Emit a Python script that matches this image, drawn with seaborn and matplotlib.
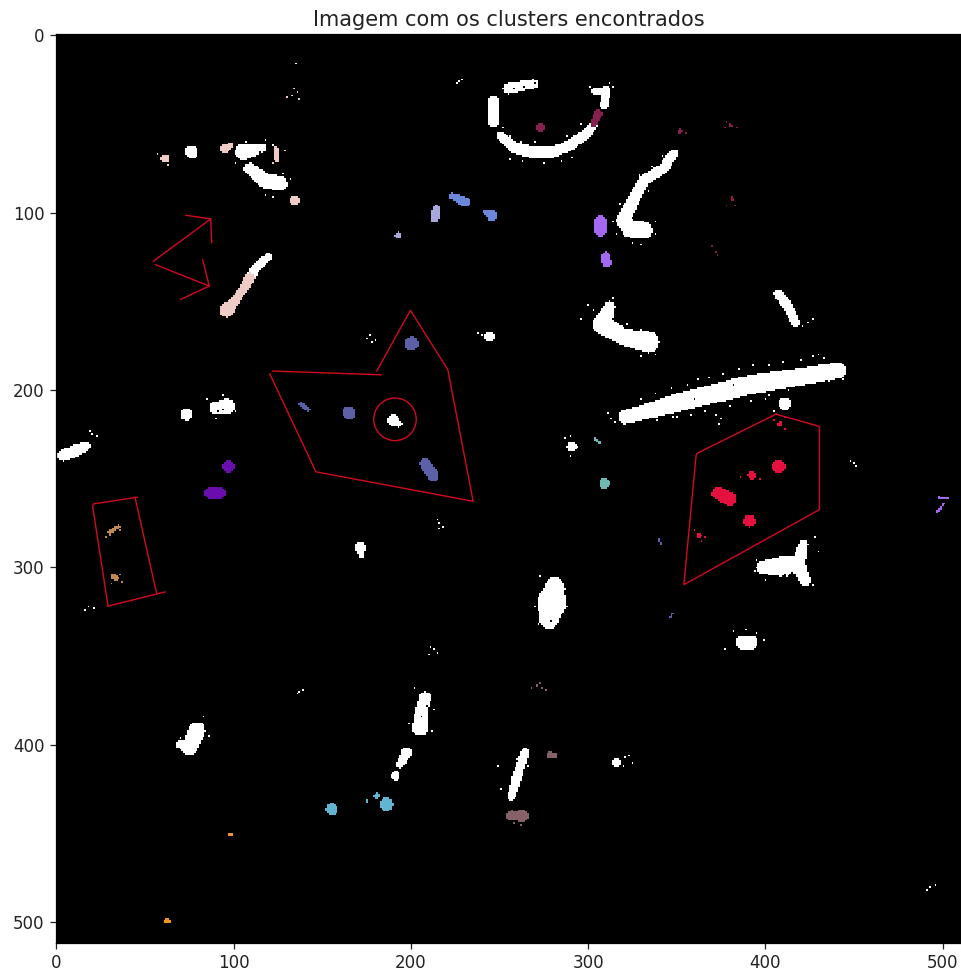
import numpy as np
import matplotlib
matplotlib.use("Agg")
import matplotlib.pyplot as plt
import seaborn as sns
from matplotlib.colors import ListedColormap
from matplotlib.patches import Circle

IMG_SIZE = 512

cluster_colors = ['#000000', '#ffffff', '#efcbc6', '#6b87dc', '#a9a8dc', '#85204f', '#a468f0',
                  '#5b60a8', '#6a0dad', '#c08a50', '#e6103f', '#6db8b0', '#62b4d0', '#f0981e', '#866168']

# blobs, (x, y, radius) along each stroke
white_blobs = [
    [(250.3, 56.4, 2.2), (257.8, 63, 3.2), (267.2, 65.8, 3.4), (280.4, 65.8, 3.2), (289.8, 62, 3), (299.2, 55.4, 2.8), (303.9, 49.8, 2)],
    [(255, 30, 3), (269, 27.5, 2.6)],
    [(246.5, 36.6, 2.6), (246.5, 48.8, 2.8)],
    [(303, 31.5, 1.8), (310.5, 31, 2.2), (309, 39.4, 2.4)],
    [(348.1, 66.7, 2.6), (342.5, 75.2, 3), (331.2, 81.8, 3), (325.5, 93, 3.4), (319.9, 104.3, 4), (323.7, 109, 5), (331.2, 110, 5)],
    [(105.4, 65.8, 4.6), (110, 65, 3.8), (117, 63.3, 2)],
    [(109.2, 75.2, 3.4), (116.7, 81.7, 4.2), (126.1, 83.6, 4.2)],
    [(76.2, 65.8, 3.8)],
    [(119.5, 125, 2.2), (113, 130.7, 2.6), (109.2, 136.3, 2.6)],
    [(320.8, 215.3, 3.8), (351.9, 206.8, 5.2), (389.5, 197.4, 5.4), (441.2, 189, 4.6)],
    [(312, 153, 3), (308, 163, 5.6), (320, 170, 4.6), (334, 173, 6)],
    [(407.4, 145.7, 2.6), (413, 153.2, 2.8), (416.8, 161.7, 2.6)],
    [(411.1, 207.8, 3.6)],
    [(290.7, 231.9, 2.8)],
    [(281, 311, 5.6), (279.5, 320, 8.4), (278, 329, 5.6)],
    [(398.5, 300, 3.6), (408.3, 299.5, 5.6), (417.7, 298, 5)],
    [(421.5, 286.8, 2.6), (418.6, 298, 4), (422.4, 307.5, 3)],
    [(387, 342.2, 4), (392, 342.2, 4)],
    [(89.4, 210, 3.4), (96, 209.2, 4.4)],
    [(73.4, 213.7, 3.4)],
    [(3.8, 236.9, 3.2), (11.3, 234, 3.4), (17, 231.6, 2.4)],
    [(190, 217.1, 3.4), (193, 219, 2)],
    [(244.6, 170, 3)],
    [(171.2, 288.6, 3.2), (172.2, 293.3, 1.6)],
    [(79.1, 392, 5), (75.3, 401.5, 4.2), (69.7, 399.6, 2)],
    [(208, 373.3, 3.4), (206, 380.8, 3.4), (205.1, 390.2, 4.8)],
    [(197.6, 404.3, 3), (193.8, 410.9, 2.2)],
    [(191.4, 417.5, 2.6)],
    [(264.4, 404.3, 2.4), (259.7, 418.4, 2.8), (256.9, 428.8, 2.4)],
    [(316.1, 410, 2.4)],
]
pink_blobs = [
    [(109, 137, 3), (102.6, 147.6, 2.2), (96, 155.1, 4)],
    [(61.2, 69.5, 2.4)],
    [(95.1, 63.9, 2.8), (98.3, 62, 1.4)],
    [(123.6, 63.9, 1.6), (124.2, 69.5, 1.8)],
    [(134.6, 93, 2.8)],
]
blue_blobs = [
    [(223, 90.6, 1.8), (230.5, 94, 2.8)],
    [(241.8, 99.6, 1.2), (245.5, 101.5, 3.2)],
]
lavender_blobs = [
    [(214.5, 98.3, 2.4), (213.6, 103.4, 2.4)],
    [(192.9, 112.8, 2)],
]
wine_blobs = [
    [(305.8, 44.1, 2.4), (303, 49.8, 2)],
    [(272.9, 52, 2.4)],
    [(351.9, 54.1, 1.3)],
    [(381.4, 92.1, 1.2)],
    [(380.1, 50.7, 1.1)],
]
violet_blobs = [
    [(307, 105, 3.4), (307, 110, 3.4)],
    [(310, 124, 2.2), (310.7, 128, 2.8)],
    [(497.6, 260.5, 0.6), (503.3, 261.4, 0.6)],
    [(500.5, 264.2, 0.6), (496.7, 268.9, 0.6)],
]
slate_blobs = [
    [(200.4, 173.9, 4)],
    [(138, 208, 1.2), (142, 211, 1.3)],
    [(165.2, 212.8, 3.8)],
    [(207.9, 241.6, 3), (212.6, 248.2, 3.4)],
    [(340, 284, 0.6), (341, 287, 0.6)],
    [(347.5, 326, 0.6), (346.5, 328, 0.6)],
]
purple_blobs = [
    [(96.9, 242.9, 3.4)],
    [(87, 258, 3.6), (92, 258, 3.6)],
]
tan_blobs = [
    [(30, 280, 1.1), (35, 277, 1)],
    [(32, 305, 1.8), (34, 306, 1.4)],
]
crimson_blobs = [
    [(373.5, 258.2, 3.6), (380.1, 261.4, 3.8)],
    [(391, 273.6, 3.4)],
    [(407.4, 243, 3.8)],
    [(392.3, 247.9, 2.4)],
    [(408.3, 219.1, 1.6)],
    [(362.8, 282.1, 1.4)],
]
teal_blobs = [
    [(309.2, 252.6, 3)],
    [(304, 227.5, 0.7), (306.5, 229.5, 0.8)],
]
sky_blobs = [
    [(155.3, 436.3, 3.4)],
    [(186.3, 433.5, 3.8)],
    [(180.7, 428.7, 1.8)],
    [(175, 431.2, 1)],
]
orange_blobs = [
    [(97.9, 450.4, 1.4)],
    [(62.5, 499.3, 1.7)],
]
mauve_blobs = [
    [(256, 440, 2.6), (263, 440, 3.2)],
    [(278, 405.6, 1.8), (281, 406, 1.8)],
    [(271, 366.7, 1)],
]

# single pixels around the blobs
white_specks = [(227, 26), (229, 25), (226, 27), (301, 29), (312, 27), (314, 29), (135, 16), (319, 215), (311, 213),
                (313, 216), (315, 218), (424, 162), (427, 160), (421, 164), (19, 223), (23, 226), (20, 225), (177, 169),
                (175, 171), (180, 172), (178, 173), (215, 273), (216, 275), (218, 277), (216, 278), (18, 322), (21, 323),
                (16, 324), (211, 345), (213, 346), (210, 349), (215, 348), (139, 369), (136, 371), (137, 370), (321, 407),
                (323, 406), (320, 412), (325, 410), (493, 480), (491, 482), (496, 479), (448, 240), (450, 241), (451, 243),
                (238, 168), (240, 169), (382, 336), (389, 335), (395, 337), (399, 341), (377, 346), (287, 227), (290, 226),
                (294, 232), (290, 237), (350, 215), (372, 214), (375, 216), (374, 219), (405, 212), (413, 200), (402, 203),
                # rough edge of the long diagonal
                (330, 205), (338, 202), (347, 199), (356, 197), (362, 194), (368, 193), (376, 191), (385, 188), (393, 186),
                (402, 186), (410, 184), (420, 183), (427, 181), (430, 180), (433, 182), (339, 217), (348, 215), (358, 214),
                (366, 212), (380, 209), (392, 206), (400, 205), (422, 196), (436, 195), (444, 194),
                # rough edge of the arc and the curves
                (252, 52), (256, 57), (262, 60), (270, 60), (288, 57), (296, 50), (256, 70), (263, 71), (275, 72), (285, 71),
                (291, 69), (342, 68), (336, 74), (329, 79), (334, 88), (328, 92), (326, 100), (318, 95), (314, 105), (316, 112),
                (325, 117), (330, 118), (338, 112), (338, 105),
                # other large blobs
                (300, 152), (303, 155), (314, 148), (296, 160), (322, 163), (330, 166), (338, 180), (330, 181), (273, 305),
                (287, 312), (270, 322), (272, 332), (288, 322), (395, 296), (400, 307), (428, 283), (430, 291), (427, 310),
                (412, 305), (394, 302), (107, 60), (118, 59), (122, 62), (101, 72), (128, 78), (132, 81), (122, 91), (118, 90),
                (85, 205), (94, 203), (101, 212), (90, 216), (68, 401), (83, 384), (86, 395), (70, 396), (202, 368), (213, 380),
                (199, 388), (212, 392), (249, 412), (266, 412), (251, 425), (260, 408)]
# holes cut back into the blobs
black_specks = [(270, 27), (264, 29), (258, 30), (115, 66), (113, 68), (382, 197), (360, 205), (277, 305), (284, 331),
                (279, 330), (415, 303), (411, 304), (206, 384), (209, 378), (12, 238), (5, 240), (94, 211), (91, 212)]
pink_specks = [(134, 30), (136, 32), (133, 34), (137, 36), (130, 35), (57, 67), (63, 73), (129, 65), (122, 72)]
wine_specks = [(355, 55), (377, 52), (384, 52), (378, 49), (378, 96), (383, 96), (370, 119), (372, 122), (373, 124)]
mauve_specks = [(268, 368), (274, 368), (276, 369), (273, 365), (258, 444), (262, 445), (257, 437)]
tan_specks = [(28, 283), (30, 282), (36, 279), (33, 278), (37, 308), (31, 309), (36, 304)]
crimson_specks = [(405, 217), (411, 222), (411, 215), (397, 250), (386, 249), (360, 279), (364, 285), (366, 283)]

# red lines of the picture
arrow_top = ([73.1, 87, 87.6], [101.5, 103.6, 116.9])
arrow_left = ([87, 54.6], [103.6, 127.4])
arrow_low = ([55.8, 86.2, 82.5], [129.3, 141.4, 126.5])
arrow_tail = ([86.2, 70.1], [141.4, 148.9])
poly_top = ([122, 183.1], [189.3, 191.4])
poly_body = ([180.7, 199.7, 220.8, 235.1, 146.4, 120.3], [189.3, 155.1, 188.5, 262.7, 246.1, 190.8])
rect_left = ([29.1, 20.4, 20.8, 45.6], [321.8, 265.6, 264.2, 260.4])
rect_right = ([44.3, 56.5], [260.4, 314.6])
rect_bottom = ([61.2, 29.1], [313.8, 321.8])
poly_right = ([406, 430.5, 430.5, 354, 360.9, 361.6, 406], [213.6, 220.5, 267.4, 309.7, 236.9, 235.6, 213.6])
circle_center = (191, 216.5)
circle_radius = 12

layers = [
    (white_blobs, white_specks, 1), (pink_blobs, pink_specks, 2), (blue_blobs, [], 3), (lavender_blobs, [], 4),
    (wine_blobs, wine_specks, 5), (violet_blobs, [], 6), (slate_blobs, [], 7), (purple_blobs, [], 8),
    (tan_blobs, tan_specks, 9), (crimson_blobs, crimson_specks, 10), (teal_blobs, [], 11), (sky_blobs, [], 12),
    (orange_blobs, [], 13), (mauve_blobs, mauve_specks, 14),
]


def paint_stroke(grid, stroke, value):
    yy, xx = np.mgrid[0:IMG_SIZE, 0:IMG_SIZE]
    if len(stroke) == 1:
        stroke = stroke * 2
    for (x0, y0, r0), (x1, y1, r1) in zip(stroke[:-1], stroke[1:]):
        dx, dy = x1 - x0, y1 - y0
        t = ((xx - x0) * dx + (yy - y0) * dy) / max(dx * dx + dy * dy, 1e-9)
        t = np.clip(t, 0, 1)
        dist = np.hypot(xx - x0 - t * dx, yy - y0 - t * dy)
        grid[dist <= r0 + t * (r1 - r0)] = value


grid = np.zeros((IMG_SIZE, IMG_SIZE), dtype=int)
for blobs, specks, value in layers:
    for stroke in blobs:
        paint_stroke(grid, stroke, value)
    for x, y in specks:
        grid[y, x] = value
for x, y in black_specks:
    grid[y, x] = 0

fig = plt.figure(figsize=(9.61, 9.74), dpi=100)
ax = fig.add_axes([55.6 / 961, (974 - 942.7) / 974, 907.4 / 961, 908.4 / 974])
sns.heatmap(grid, cmap=ListedColormap(cluster_colors), vmin=0, vmax=len(cluster_colors) - 1,
            cbar=False, ax=ax, xticklabels=False, yticklabels=False)

for xs, ys in [arrow_top, arrow_left, arrow_low, arrow_tail, poly_top, poly_body,
               rect_left, rect_right, rect_bottom, poly_right]:
    ax.plot(np.array(xs) + 0.5, np.array(ys) + 0.5, color='#d30a1e', lw=1.0)
ax.add_patch(Circle((circle_center[0] + 0.5, circle_center[1] + 0.5), circle_radius,
                    fill=False, edgecolor='#d30a1e', lw=1.0))

ticks = np.arange(0, 501, 100)
ax.set_xticks(ticks + 0.5)
ax.set_xticklabels(ticks, rotation=0)
ax.set_yticks(ticks + 0.5)
ax.set_yticklabels(ticks, rotation=0)
ax.tick_params(labelsize=12, length=4.5, width=0.9, colors='#222222')
for side in ax.spines.values():
    side.set_visible(True)
    side.set_linewidth(0.9)

ax.set_title("Imagem com os clusters encontrados", fontsize=15, color='#222222')
fig.savefig('out.png', dpi=100)
